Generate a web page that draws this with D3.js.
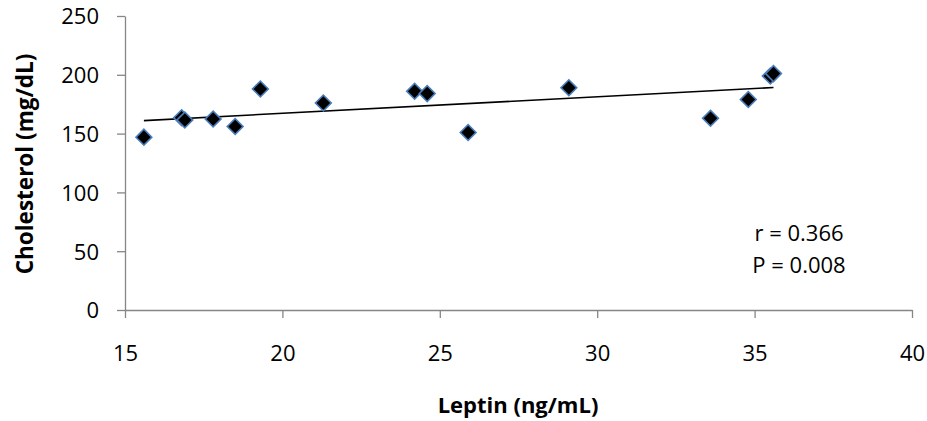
<!DOCTYPE html>
<html lang="en">
	<head>
		<meta charset="utf-8">
		<title>Leptin vs cholesterol</title>
		<script type="text/javascript" src="https://cdn.jsdelivr.net/npm/d3@7"></script>
		<style type="text/css">
			body { margin: 0; background: #fff; }
			text { font-family: "Open Sans", sans-serif; fill: #000; }
		</style>
	</head>
	<body>
		<script type="text/javascript">

			//Width and height
			var w = 927;
			var h = 421;

			//Plot area edges
			var plotLeft = 125, plotRight = 912, plotTop = 16, plotBottom = 310;

			//Data
			var leptin      = [15.6, 16.8, 16.9, 17.8, 18.5, 19.3, 21.3, 24.2, 24.6, 25.9, 29.1, 33.6, 34.8, 35.5, 35.6];
			var cholesterol = [147, 163.5, 161.5, 162.4, 156, 188, 176, 186, 184, 151, 189, 163, 179, 199, 201];

			//Tick values and annotation
			var xTicks = [15, 20, 25, 30, 35, 40];
			var yTicks = [0, 50, 100, 150, 200, 250];
			var statLines = ["r = 0.366", "P = 0.008"];

			var dataset = leptin.map(function(d, i) {
				return { x: d, y: cholesterol[i] };
			});

			//Scales
			var xScale = d3.scaleLinear().domain([15, 40]).range([plotLeft, plotRight]);
			var yScale = d3.scaleLinear().domain([0, 250]).range([plotBottom, plotTop]);

			//Least squares trend line
			var mx = d3.mean(dataset, function(d) { return d.x; });
			var my = d3.mean(dataset, function(d) { return d.y; });
			var sxy = d3.sum(dataset, function(d) { return (d.x - mx) * (d.y - my); });
			var sxx = d3.sum(dataset, function(d) { return (d.x - mx) * (d.x - mx); });
			var slope = sxy / sxx;
			var icpt = my - slope * mx;
			var trend = d3.extent(leptin).map(function(x) { return { x: x, y: icpt + slope * x }; });

			var svg = d3.select("body")
						.append("svg")
						.attr("width", w)
						.attr("height", h);

			//Axes
			var xAxis = d3.axisBottom(xScale).tickValues(xTicks).tickSize(8).tickSizeOuter(0).tickPadding(27);
			var yAxis = d3.axisLeft(yScale).tickValues(yTicks).tickSize(8).tickSizeOuter(0).tickPadding(18);

			var gx = svg.append("g")
				.attr("transform", "translate(0," + plotBottom + ")")
				.call(xAxis);
			var gy = svg.append("g")
				.attr("transform", "translate(" + plotLeft + ",0)")
				.call(yAxis);

			[gx, gy].forEach(function(g) {
				g.select(".domain").attr("stroke", "#868686").attr("stroke-width", 1.3);
				g.selectAll(".tick line").attr("stroke", "#868686").attr("stroke-width", 1.3);
				g.selectAll(".tick text")
					.attr("font-family", "Open Sans, sans-serif")
					.attr("font-size", "22px")
					.attr("fill", "#000");
			});
			gy.selectAll(".tick text").attr("dy", "0.36em");

			//Trend line
			svg.append("path")
				.datum(trend)
				.attr("fill", "none")
				.attr("stroke", "#000")
				.attr("stroke-width", 1.6)
				.attr("d", d3.line()
					.x(function(d) { return xScale(d.x); })
					.y(function(d) { return yScale(d.y); }));

			//Diamond markers
			var diamond = d3.symbol().type(d3.symbolSquare).size(125);
			svg.selectAll("path.pt")
				.data(dataset)
				.enter()
				.append("path")
				.attr("class", "pt")
				.attr("d", diamond)
				.attr("transform", function(d) {
					return "translate(" + xScale(d.x) + "," + yScale(d.y) + ") rotate(45)";
				})
				.attr("fill", "#000")
				.attr("stroke", "#4a7ebb")
				.attr("stroke-width", 1.6);

			//Stats text
			svg.selectAll("text.stat")
				.data(statLines)
				.enter()
				.append("text")
				.attr("class", "stat")
				.attr("x", 799)
				.attr("y", function(d, i) { return 233 + i * 32; })
				.attr("dy", "0.36em")
				.attr("text-anchor", "middle")
				.attr("font-size", "22px")
				.text(function(d) { return d; });

			//Axis titles
			svg.append("text")
				.attr("x", 518)
				.attr("y", 405)
				.attr("dy", "0.36em")
				.attr("text-anchor", "middle")
				.attr("font-size", "22px")
				.attr("font-weight", "bold")
				.text("Leptin (ng/mL)");

			svg.append("text")
				.attr("transform", "translate(25,164) rotate(-90)")
				.attr("dy", "0.36em")
				.attr("text-anchor", "middle")
				.attr("font-size", "22.5px")
				.attr("font-weight", "bold")
				.text("Cholesterol (mg/dL)");

		</script>
	</body>
</html>
